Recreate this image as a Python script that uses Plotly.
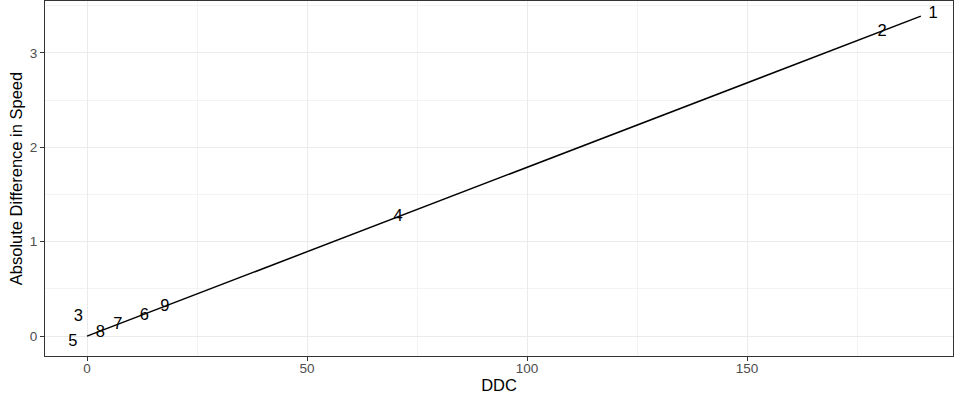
import plotly.graph_objects as go

labels = ["1", "2", "3", "4", "5", "6", "7", "8", "9"]
ddc = [192.3, 180.7, -2.0, 70.7, -3.2, 13.0, 7.0, 3.0, 17.7]
speed_diff = [3.41, 3.22, 0.20, 1.26, -0.06, 0.22, 0.12, 0.03, 0.31]

line_x = [0, 189.5]
line_y = [0, 3.39]

FONT = "Liberation Sans, Arial"

fig = go.Figure()
fig.add_trace(go.Scatter(x=line_x, y=line_y, mode="lines",
                         line=dict(color="black", width=1.5), showlegend=False, hoverinfo="skip"))
fig.add_trace(go.Scatter(x=ddc, y=speed_diff, mode="text", text=labels,
                         textfont=dict(family=FONT, size=16.5, color="black"),
                         textposition="middle center", showlegend=False))

axis_common = dict(
    showgrid=True, gridcolor="#EBEBEB", gridwidth=1.1,
    zeroline=False, showline=True, linecolor="#333333", linewidth=1.1, mirror=True,
    ticks="outside", ticklen=4, tickcolor="#333333", tickwidth=1.1,
    tickfont=dict(family=FONT, size=13.5, color="#4D4D4D"),
)

fig.update_layout(
    width=955, height=399,
    margin=dict(l=45, r=2, t=1, b=43),
    plot_bgcolor="white", paper_bgcolor="white",
    xaxis=dict(range=[-9.55, 196.8], tickvals=[0, 50, 100, 150], ticklabelstandoff=-4,
               minor=dict(tickvals=[25, 75, 125, 175], showgrid=True, gridcolor="#F3F3F3", ticks=""),
               title=dict(text="DDC", font=dict(family=FONT, size=16.5, color="black"), standoff=0),
               **axis_common),
    yaxis=dict(range=[-0.21, 3.55], tickvals=[0, 1, 2, 3],
               minor=dict(tickvals=[0.5, 1.5, 2.5, 3.5], showgrid=True, gridcolor="#F3F3F3", ticks=""),
               title=dict(text="Absolute Difference in Speed", font=dict(family=FONT, size=16.5, color="black"), standoff=2),
               **axis_common),
)

fig.write_html("out.html")
